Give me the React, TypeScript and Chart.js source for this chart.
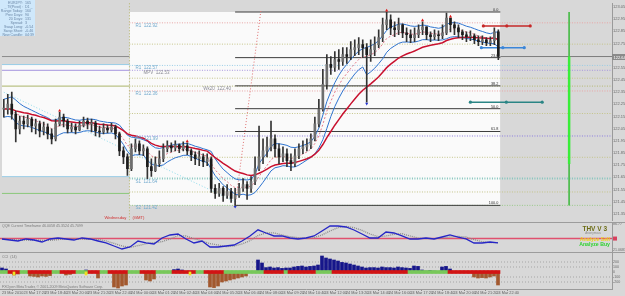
import React, { useEffect, useRef } from "react";
import { Chart, registerables } from "chart.js";

Chart.register(...registerables);

// ======================= DATA =======================
const closes = [
  122.211, 122.252, 122.170, 122.048, 122.113, 122.089, 122.129, 122.072, 122.089, 122.031,
  122.064, 122.007, 121.966, 122.089, 122.145, 122.113, 122.048, 122.064, 122.040, 122.080,
  122.113, 122.089, 122.097, 122.031, 122.023, 122.056, 122.040, 122.064, 122.007, 121.868,
  121.819, 121.722, 121.885, 121.925, 121.868, 121.885, 121.738, 121.705, 121.762, 121.803,
  121.885, 121.909, 121.893, 121.917, 121.885, 121.909, 121.868, 121.836, 121.803, 121.819,
  121.779, 121.803, 121.559, 121.518, 121.559, 121.502, 121.534, 121.477, 121.502, 121.559,
  121.591, 121.559, 121.616, 121.722, 121.819, 121.868, 121.901, 121.966, 121.885, 121.819,
  121.844, 121.787, 121.762, 121.828, 121.885, 121.901, 121.917, 121.966, 122.089, 122.211,
  122.414, 122.578, 122.553, 122.618, 122.602, 122.659, 122.643, 122.700, 122.716, 122.741,
  122.716, 122.659, 122.700, 122.741, 122.798, 122.904, 122.944, 122.879, 122.863, 122.904,
  122.838, 122.822, 122.798, 122.822, 122.863, 122.887, 122.822, 122.806, 122.822, 122.814,
  122.838, 122.960, 122.904, 122.879, 122.846, 122.822, 122.806, 122.814, 122.781, 122.765,
  122.781, 122.757, 122.773, 122.846, 122.643,
];
const highs = [
  122.292, 122.333, 122.350, 122.194, 122.154, 122.154, 122.162, 122.145, 122.129, 122.113,
  122.105, 122.089, 122.048, 122.129, 122.186, 122.170, 122.129, 122.097, 122.089, 122.113,
  122.145, 122.137, 122.129, 122.113, 122.072, 122.089, 122.080, 122.097, 122.080, 122.023,
  121.901, 121.844, 121.925, 121.966, 121.950, 121.917, 121.901, 121.803, 121.819, 121.868,
  121.925, 121.950, 121.934, 121.950, 121.925, 121.942, 121.934, 121.885, 121.860, 121.868,
  121.844, 121.844, 121.819, 121.591, 121.600, 121.575, 121.591, 121.559, 121.559, 121.600,
  121.640, 121.616, 121.657, 121.819, 122.072, 121.966, 121.982, 122.113, 121.999, 121.925,
  121.901, 121.885, 121.844, 121.885, 121.925, 121.950, 121.966, 122.007, 122.145, 122.292,
  122.537, 122.659, 122.643, 122.683, 122.700, 122.716, 122.716, 122.765, 122.781, 122.798,
  122.781, 122.749, 122.781, 122.806, 122.863, 122.960, 123.009, 122.985, 122.928, 122.960,
  122.912, 122.879, 122.863, 122.879, 122.904, 122.928, 122.887, 122.846, 122.863, 122.854,
  122.904, 123.001, 122.960, 122.928, 122.904, 122.863, 122.846, 122.854, 122.830, 122.814,
  122.814, 122.798, 122.806, 122.879, 122.863,
];
const lows = [
  122.145, 122.170, 122.129, 121.942, 122.007, 122.048, 122.064, 122.023, 122.007, 121.982,
  121.999, 121.966, 121.925, 121.950, 122.072, 122.064, 122.015, 122.023, 122.007, 122.031,
  122.064, 122.048, 122.023, 121.991, 121.982, 122.007, 122.015, 122.023, 121.966, 121.828,
  121.762, 121.665, 121.705, 121.860, 121.836, 121.828, 121.640, 121.657, 121.697, 121.738,
  121.779, 121.860, 121.860, 121.868, 121.852, 121.868, 121.836, 121.787, 121.754, 121.746,
  121.738, 121.746, 121.526, 121.477, 121.494, 121.453, 121.477, 121.445, 121.420, 121.486,
  121.534, 121.469, 121.526, 121.591, 121.705, 121.762, 121.819, 121.868, 121.819, 121.762,
  121.779, 121.738, 121.705, 121.738, 121.803, 121.844, 121.868, 121.885, 121.950, 122.064,
  122.194, 122.374, 122.496, 122.520, 122.537, 122.569, 122.586, 122.618, 122.651, 122.659,
  122.635, 122.268, 122.602, 122.651, 122.716, 122.765, 122.863, 122.822, 122.806, 122.822,
  122.798, 122.765, 122.757, 122.765, 122.798, 122.822, 122.781, 122.765, 122.781, 122.773,
  122.789, 122.822, 122.846, 122.822, 122.798, 122.781, 122.765, 122.773, 122.749, 122.732,
  122.741, 122.732, 122.732, 122.741, 122.618,
];

// oscillator (QQE), one value every 2 bars
const oscValues = [
  48.9, 46.3, 43.8, 48.9, 46.3, 41.3, 48.9, 51.4, 48.9, 46.3,
  51.4, 48.9, 43.8, 38.8, 31.2, 23.6, 28.7, 43.8, 38.8, 36.2,
  51.4, 59.0, 61.5, 48.9, 38.8, 43.8, 28.7, 28.7, 31.2, 33.7,
  43.8, 56.5, 72.0, 64.0, 56.5, 56.5, 51.4, 48.9, 51.4, 56.5,
  69.1, 81.7, 81.7, 79.2, 71.6, 61.5, 51.4, 51.4, 66.6, 64.0,
  56.5, 48.9, 48.9, 51.4, 48.9, 53.9, 59.0, 53.9, 48.9, 38.8,
  38.8, 41.3, 38.8,
];
const oscLevel = 50;
const oscTicks = [86.77, 21.0683];

// histogram (CCI), one value per bar
const histValues = [
  80, 60, 0, -60, -40, 0, 0, -80, -88, -100,
  -80, -88, -72, 0, 0, 0, -60, -48, 0, 0,
  0, 40, 0, 0, -120, 0, 0, 0, -300, -320,
  -280, -260, 0, 0, 0, 0, -160, -180, -140, 0,
  0, 0, 0, 48, 60, 40, 0, 0, 0, 0,
  0, 0, -300, -312, -280, -200, -180, -160, -140, -120,
  -100, -80, 0, 0, 240, 180, 88, 100, 80, 88,
  72, 80, 80, 100, 112, 120, 100, 112, 120, 140,
  320, 280, 260, 240, 220, 192, 180, 160, 140, 120,
  100, 80, 88, 88, 80, 100, 88, 88, 80, 100,
  88, 80, 72, 120, 112, 40, 20, 32, 20, 12,
  100, 112, 60, 0, 0, 0, 0, -20, -100, -120,
  -112, -120, -100, -80, -260,
];
const redStripRanges = [
  [2, 4], [7, 12], [15, 18], [22, 24], [27, 31], [35, 38], [43, 48], [51, 55],
  [66, 70], [72, 78], [83, 101], [112, 124],
];
const yellowBars = [3, 21, 47];
const histLevels = [200, 100, -100, -200];
const histTicks = [200, 100, 0, -100, -200];
const stripHalf = 30;
const yellowDepth = -60;

const fractalUpBars = [14, 46, 96, 105, 112];
const fractalDownBars = [58, 91];

const priceTicks = [
  123.05, 122.95, 122.85, 122.75, 122.65, 122.55, 122.45, 122.35, 122.25,
  122.15, 122.05, 121.95, 121.85, 121.75, 121.65, 121.55, 121.45, 121.35,
];
const timeLabels = [
  "23 Mar 2010", "23 Mar 17:20", "23 Mar 18:40", "23 Mar 20:00", "23 Mar 21:20",
  "23 Mar 22:40", "24 Mar 00:00", "24 Mar 01:20", "24 Mar 02:40", "24 Mar 04:00",
  "24 Mar 05:20", "24 Mar 06:40", "24 Mar 08:00", "24 Mar 09:20", "24 Mar 10:40",
  "24 Mar 12:00", "24 Mar 13:20", "24 Mar 14:40", "24 Mar 16:00", "24 Mar 17:20",
  "24 Mar 18:40", "24 Mar 20:00", "24 Mar 21:20", "24 Mar 22:40",
];

const pivotNames = ["R1", "R1", "MPV", "Wk20", "R1", "PP", "S1", "S2"];
const pivotValues = [122.92, 122.57, 122.53, 122.40, 122.36, 121.99, 121.64, 121.42];
const midPivotValues = [122.745, 122.465, 122.175, 121.815, 121.53];
const prevDayLevels = [122.643, 122.577, 122.53, 122.40, 121.656, 121.518];
const prevDayRange = [122.577, 121.656];
const fibLevels = [0, 23.6, 38.2, 50, 61.8, 100];
const targetLevels = [122.895, 122.716, 122.268];
const greenBarRange = [122.643, 121.76];
const cyanTrend = [122.35, 121.45];
const redTrendTop = 123.03;

const infoLabels = ["EURJPY:", "_ Tf(Pivot) :", "Range Today:", "Prev Days:", "20 Days:", "Spread:", "Swap Long:", "Swap Short:", "New Candle:"];
const infoValues = ["165", "D1 _", "160", "90", "131", "3", "-0.54", "-0.46", "04:39"];

// ======================= LAYOUT / STYLE =======================
const FONT = '"Liberation Sans", Arial, Helvetica, sans-serif';
const AXIS_W = 13;
const X_MIN = -0.5;
const X_MAX = 152.5;
const MAIN_MIN = 121.298;
const MAIN_MAX = 123.083;
const OSC_MIN = 16.0;
const OSC_MAX = 89.3;
const HIST_MIN = -340;
const HIST_MAX = 380;
const DAY_SPLIT = 31.5;
const LAST_EDGE = closes.length - 0.5;
const LABEL_STEP = 5.375;
const GREEN_BAR_X = 141.75;
const RED_TREND_END_X = 64.5;
const targetSpans = [[120.25, 132], [119.75, 130.5], [117, 135]];
const targetColors = ["#c62828", "#3a86d8", "#2a8585"];
const pivotColors = ["#e8a4a4", "#98cce6", "#a493de", "#b4b872", "#e8a4a4", "#8c7ce0", "#86c6be", "#96c886"];
const pivotWidths = [1, 1, 1, 1, 1, 1, 2, 1];
const pivotLabelBars = [33, 33, 35, 50, 33, 33, 33, 33];
const prevDayColors = ["#8c8c8c", "#98cce6", "#a493de", "#aab468", "#98cce6", "#8cc87c"];
const BG = "#d8d8d8";
const WHITE = "#fafafa";

// ======================= HELPERS =======================
function ema(src: number[], n: number): number[] {
  const a = 2 / (n + 1);
  let e = src[0];
  return src.map((v, i) => (e = i === 0 ? v : e + a * (v - e)));
}
const seg = (x0: number, x1: number, y: number) => [{ x: x0, y }, { x: x1, y }];
function line(data: any[], color: string, width: number, dash: number[], order: number, extra: any = {}) {
  return {
    type: "line", data, borderColor: color, backgroundColor: color, borderWidth: width,
    borderDash: dash, pointRadius: 0, pointHoverRadius: 0, fill: false, tension: 0, order, ...extra,
  };
}
function rightAxis(min: number, max: number, ticks: number[], fmt: (v: number) => string, size = 4) {
  return {
    position: "right", min, max,
    afterFit: (s: any) => { s.width = AXIS_W; s.paddingTop = 0; s.paddingBottom = 0; },
    afterBuildTicks: (s: any) => { s.ticks = ticks.map((v) => ({ value: v })); },
    ticks: { font: { size, family: FONT }, color: "#6a6a6a", padding: 1, callback: (v: any) => fmt(Number(v)) },
    grid: { display: false, drawTicks: false, tickLength: 0 },
    border: { display: true, color: "#9a9a9a" },
  };
}
function txt(ctx: CanvasRenderingContext2D, s: string, x: number, y: number, size: number, color: string, align: CanvasTextAlign = "left", weight = "normal") {
  ctx.font = `${weight} ${size}px ${FONT}`;
  ctx.fillStyle = color;
  ctx.textAlign = align;
  ctx.textBaseline = "alphabetic";
  ctx.fillText(s, x, y);
}
const common = {
  responsive: false, animation: false, devicePixelRatio: 1, events: [],
  plugins: { legend: { display: false }, tooltip: { enabled: false } },
};

// ======================= MAIN PANEL =======================
function buildMain() {
  const n = closes.length;
  const opens = closes.map((c, i) => (i === 0 ? c : closes[i - 1]));
  const start = Math.ceil(DAY_SPLIT);
  const dayHigh = Math.max(...highs.slice(start));
  const dayLow = Math.min(...lows.slice(start));
  const fibStart = lows.indexOf(dayLow);
  const lastPrice = closes[n - 1];
  const ds: any[] = [];

  // day range boxes
  ds.push(line(seg(X_MIN, DAY_SPLIT, prevDayRange[0]), "rgba(0,0,0,0)", 1, [], 60, { fill: { value: prevDayRange[1] }, backgroundColor: WHITE }));
  ds.push(line(seg(DAY_SPLIT, LAST_EDGE, dayHigh), "rgba(0,0,0,0)", 1, [], 60, { fill: { value: dayLow }, backgroundColor: WHITE }));
  // previous day levels
  prevDayLevels.forEach((v, i) => ds.push(line(seg(X_MIN, DAY_SPLIT, v), prevDayColors[i], 1, [], 40)));
  // pivots
  pivotValues.forEach((v, i) => ds.push(line(seg(DAY_SPLIT, X_MAX, v), pivotColors[i], pivotWidths[i], [1, 1.5], 38)));
  midPivotValues.forEach((v) => ds.push(line(seg(DAY_SPLIT, X_MAX, v), "#c4c488", 1, [1, 1.5], 39)));
  // day separator
  ds.push(line([{ x: DAY_SPLIT, y: MAIN_MIN - 0.05 }, { x: DAY_SPLIT, y: MAIN_MAX + 0.05 }], "#b4b468", 1, [1, 2], 37));
  // fibonacci
  fibLevels.forEach((l) => ds.push(line(seg(fibStart, LAST_EDGE, dayHigh - ((dayHigh - dayLow) * l) / 100), "#3c3c3c", 1, [], 30)));
  // bid line
  ds.push(line(seg(LAST_EDGE, X_MAX, lastPrice), "#7c7c7c", 1, [], 30));
  // trend lines
  ds.push(line([{ x: 0, y: cyanTrend[0] }, { x: fibStart, y: cyanTrend[1] }], "#8fdcec", 1, [1, 2], 25));
  ds.push(line([{ x: fibStart, y: dayLow }, { x: RED_TREND_END_X, y: redTrendTop }], "#e07070", 1, [1, 2], 25));
  // green range bar
  ds.push(line([{ x: GREEN_BAR_X, y: dayHigh }, { x: GREEN_BAR_X, y: dayLow }], "#4cbc4c", 1, [], 20));
  ds.push(line([{ x: GREEN_BAR_X, y: greenBarRange[0] }, { x: GREEN_BAR_X, y: greenBarRange[1] }], "#39ee39", 2.5, [], 19));
  // target segments
  targetLevels.forEach((v, i) => {
    const [a, b] = targetSpans[i];
    ds.push(line([{ x: a, y: v }, { x: (a + b) / 2, y: v }, { x: b, y: v }], targetColors[i], 1.5, [], 18, { pointRadius: 1.6, pointBackgroundColor: targetColors[i], pointBorderWidth: 0 }));
  });
  // moving averages
  const xy = (arr: number[]) => arr.map((y, i) => ({ x: i, y }));
  ds.push(line(xy(ema(closes, 22)), "#c8102e", 1.5, [], 6));
  ds.push(line(xy(ema(highs, 8)), "#2f74d0", 1, [], 7));
  ds.push(line(xy(ema(lows, 8)), "#2f74d0", 1, [], 7));
  ds.push(line(xy(ema(closes, 8)), "#e47c8c", 1, [2, 2], 8));
  // candles
  ds.push({
    type: "bar", order: 3, grouped: false, barThickness: 1,
    data: closes.map((c, i) => ({ x: i, y: [Math.min(lows[i], opens[i], c), Math.max(highs[i], opens[i], c)] })),
    backgroundColor: "#333333",
  });
  ds.push({
    type: "bar", order: 2, grouped: false, barThickness: 2, minBarLength: 1,
    data: closes.map((c, i) => ({ x: i, y: [opens[i], c] })),
    backgroundColor: closes.map((c, i) => (c >= opens[i] ? "#6e6e6e" : "#1c1c1c")),
  });
  // fractals
  ds.push(line(fractalUpBars.map((i) => ({ x: i, y: highs[i] + 0.012 })), "#e01818", 1, [], 1, { showLine: false, pointRadius: 1.8, pointStyle: "triangle", pointBackgroundColor: "#e01818", pointBorderWidth: 0 }));
  ds.push(line(fractalDownBars.map((i) => ({ x: i, y: lows[i] - 0.012 })), "#2030d0", 1, [], 1, { showLine: false, pointRadius: 1.8, pointStyle: "triangle", rotation: 180, pointBackgroundColor: "#2030d0", pointBorderWidth: 0 }));

  const overlay = {
    id: "mainOverlay",
    afterDatasetsDraw(chart: any) {
      const { ctx, scales: { x, y }, chartArea } = chart;
      ctx.save();
      pivotNames.forEach((nm, i) => {
        const col = nm === "Wk20" || nm === "MPV" ? "#8c8c96" : "#72aace";
        txt(ctx, `${nm}  ${pivotValues[i].toFixed(2)}`, x.getPixelForValue(pivotLabelBars[i]), y.getPixelForValue(pivotValues[i]) + 4, 4.5, col);
      });
      fibLevels.forEach((l) => {
        const v = dayHigh - ((dayHigh - dayLow) * l) / 100;
        txt(ctx, l.toFixed(1), x.getPixelForValue(LAST_EDGE) - 2, y.getPixelForValue(v) - 1, 3.8, "#303030", "right");
      });
      const sx = x.getPixelForValue(DAY_SPLIT);
      txt(ctx, "Wednesday", sx - 3, chartArea.bottom - 1, 4.2, "#d03030", "right");
      txt(ctx, "(GMT)", sx + 3, chartArea.bottom - 1, 4.2, "#d03030", "left");
      ctx.restore();
    },
    afterDraw(chart: any) {
      const { ctx, scales: { y }, chartArea } = chart;
      ctx.save();
      const py = Math.round(y.getPixelForValue(lastPrice));
      ctx.fillStyle = "#8a8a8a";
      ctx.fillRect(chartArea.right, py - 3, AXIS_W, 6);
      txt(ctx, lastPrice.toFixed(2), chartArea.right + 1.5, py + 1.6, 4, "#ffffff");
      // info box
      ctx.fillStyle = "#cfe8fb";
      ctx.fillRect(0, 0, 35, 36);
      infoLabels.forEach((l, i) => {
        txt(ctx, l, 23, 4 + i * 4, 3.6, "#6a86a6", "right");
        txt(ctx, infoValues[i], 25, 4 + i * 4, 3.6, "#6a86a6", "left");
      });
      ctx.restore();
    },
  };

  return {
    type: "bar",
    data: { datasets: ds },
    options: {
      ...common,
      layout: { padding: { top: 3, left: 0, right: 0, bottom: 0 } },
      scales: {
        x: { type: "linear", min: X_MIN, max: X_MAX, display: false, offset: false },
        y: rightAxis(MAIN_MIN, MAIN_MAX, priceTicks, (v) => v.toFixed(2)),
      },
    },
    plugins: [overlay],
  };
}

// ======================= OSCILLATOR PANEL =======================
function buildOsc() {
  const pts = oscValues.map((v, k) => ({ x: 2 * k, y: v }));
  const sig = oscValues.map((v, k) => {
    const a = oscValues[Math.max(0, k - 1)];
    const b = oscValues[Math.max(0, k - 2)];
    return { x: 2 * k, y: (v + a + b) / 3 };
  });
  const ds: any[] = [
    line(seg(X_MIN, X_MAX, oscLevel), "#e0506e", 1.5, [], 5),
    line(sig, "#8a8a8a", 1.3, [1, 1], 2),
    line(pts, "#2626c6", 1.3, [], 1),
  ];
  const overlay = {
    id: "oscOverlay",
    afterDraw(chart: any) {
      const { ctx, scales: { y }, chartArea } = chart;
      ctx.save();
      txt(ctx, "QQE Current Timeframe 46.0058 45.3524 45.7099", 2, 4, 3.6, "#7a7a7a");
      const ly = y.getPixelForValue(oscLevel);
      ctx.fillStyle = "#d8405e";
      ctx.fillRect(chartArea.right + 1, ly - 2, 4, 4);
      txt(ctx, "THV V 3", 607, 7.5, 6.5, "#6c6c14", "right", "bold");
      txt(ctx, "Anonymous", 601, 10.5, 3, "#8a8a8a", "right");
      txt(ctx, "Analyze Sell", 610, 17.5, 5.2, "#ecd41c", "right", "bold");
      txt(ctx, "Analyze Buy", 610, 22.5, 5.2, "#2ed22e", "right", "bold");
      ctx.restore();
    },
  };
  return {
    type: "line",
    data: { datasets: ds },
    options: {
      ...common,
      layout: { padding: 0 },
      scales: {
        x: { type: "linear", min: X_MIN, max: X_MAX, display: false, offset: false },
        y: rightAxis(OSC_MIN, OSC_MAX, oscTicks, (v) => String(v), 3.6),
      },
    },
    plugins: [overlay],
  };
}

// ======================= HISTOGRAM PANEL =======================
function buildHist() {
  const isRed = (i: number) => redStripRanges.some(([a, b]) => i >= a && i <= b);
  const ds: any[] = [];
  histLevels.forEach((v) => ds.push(line(seg(X_MIN, X_MAX, v), "#a6a6a6", 1, [1, 2], 10)));
  ds.push({
    type: "bar", order: 1, grouped: false, barThickness: 4,
    data: histValues.map((_, i) => ({ x: i, y: [-stripHalf, stripHalf] })),
    backgroundColor: histValues.map((_, i) => (isRed(i) ? "#d21414" : "#78c85a")),
  });
  ds.push({
    type: "bar", order: 2, grouped: false, barThickness: 3,
    data: histValues.map((v, i) => ({ x: i, y: v })),
    backgroundColor: histValues.map((v) => (v >= 0 ? "#16168a" : "#a2582e")),
  });
  ds.push({
    type: "bar", order: 0, grouped: false, barThickness: 2,
    data: yellowBars.map((i) => ({ x: i, y: [yellowDepth, 0] })),
    backgroundColor: "#eee022",
  });
  const overlay = {
    id: "histOverlay",
    afterDraw(chart: any) {
      const { ctx } = chart;
      ctx.save();
      txt(ctx, "CCI  (14)", 2, 5, 3.6, "#7a7a7a");
      txt(ctx, "FXOpen MetaTrader, \u00a9 2001-2009 MetaQuotes Software Corp.", 2, 34.5, 3.6, "#7a7a7a");
      ctx.restore();
    },
  };
  return {
    type: "bar",
    data: { datasets: ds },
    options: {
      ...common,
      layout: { padding: 0 },
      scales: {
        x: {
          type: "linear", min: X_MIN, max: X_MAX, offset: false, position: "bottom",
          afterFit: (s: any) => { s.height = 7; s.paddingLeft = 0; s.paddingRight = 0; },
          afterBuildTicks: (s: any) => { s.ticks = timeLabels.map((_, k) => ({ value: k * LABEL_STEP })); },
          ticks: {
            autoSkip: false, maxRotation: 0, minRotation: 0, align: "start", padding: 0,
            font: { size: 3.8, family: FONT }, color: "#606060",
            callback: (_v: any, idx: number) => timeLabels[idx],
          },
          grid: { display: true, drawOnChartArea: false, tickLength: 2, color: "#888888" },
          border: { display: true, color: "#9a9a9a" },
        },
        y: rightAxis(HIST_MIN, HIST_MAX, histTicks, (v) => String(v), 3.6),
      },
    },
    plugins: [overlay],
  };
}

// ======================= COMPONENT =======================
export default function App() {
  const mainRef = useRef<HTMLCanvasElement>(null);
  const oscRef = useRef<HTMLCanvasElement>(null);
  const histRef = useRef<HTMLCanvasElement>(null);

  useEffect(() => {
    const charts = [
      new Chart(mainRef.current as any, buildMain() as any),
      new Chart(oscRef.current as any, buildOsc() as any),
      new Chart(histRef.current as any, buildHist() as any),
    ];
    return () => charts.forEach((c) => c.destroy());
  }, []);

  const abs = (top: number): React.CSSProperties => ({ position: "absolute", left: 0, top });
  return (
    <div style={{ position: "absolute", left: 0, top: 0, width: 625, height: 296, background: BG, overflow: "hidden" }}>
      <canvas ref={mainRef} width={625} height={222} style={abs(0)} />
      <div style={{ ...abs(222), width: 625, height: 1, background: "#9c9c9c" }} />
      <canvas ref={oscRef} width={625} height={29} style={abs(223)} />
      <div style={{ ...abs(252), width: 625, height: 1, background: "#9c9c9c" }} />
      <canvas ref={histRef} width={625} height={43} style={abs(253)} />
    </div>
  );
}
